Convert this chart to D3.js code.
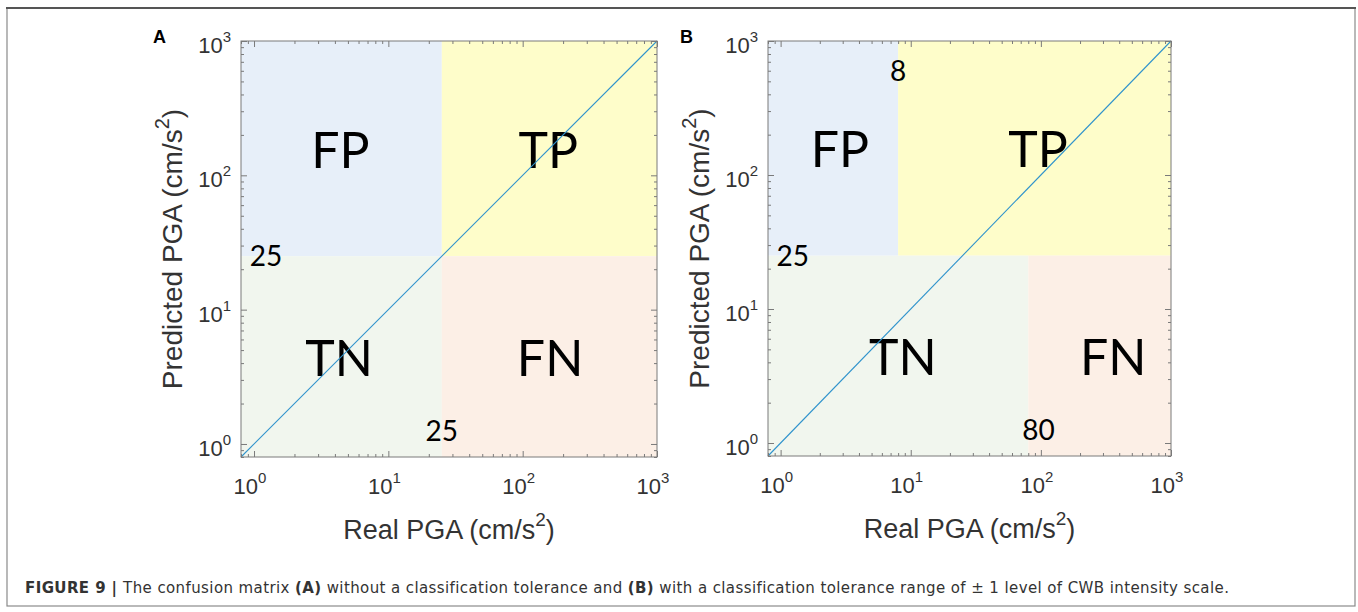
<!DOCTYPE html>
<html>
<head>
<meta charset="utf-8">
<script src="https://cdn.jsdelivr.net/npm/d3@7"></script>
<style>
  body { margin: 0; background: #fff; }
  svg { display: block; }
</style>
</head>
<body>
<div id="chart"></div>
<script>
// Axis range and ticks (same for both panels, PGA in cm/s^2)
const pgaDomain = [0.8, 1000];
const majorTicks = [1, 10, 100, 1000];
const tickExponents = ["0", "1", "2", "3"];

// Quadrant names, each region is [xFrom, xTo, yFrom, yTo]
const regionNames = ["FP", "TP", "TN", "FN"];
const regionsA = [[0.8, 25, 25, 1000], [25, 1000, 25, 1000], [0.8, 25, 0.8, 25], [25, 1000, 0.8, 25]];
const regionsB = [[0.8, 8, 25, 1000], [8, 1000, 25, 1000], [0.8, 80, 0.8, 25], [80, 1000, 0.8, 25]];

// Where the big quadrant names sit, in data units
const nameSpotsA = [[4.4, 155], [155, 155], [4.3, 4.4], [160, 4.4]];
const nameSpotsB = [[2.86, 155], [95, 155], [8.7, 4.4], [359, 4.4]];

// Threshold numbers written inside the plots
const cutTextA = ["25", "25"];
const cutSpotsA = [[0.93, 25], [25, 1.25]];
const cutTextB = ["8", "25", "80"];
const cutSpotsB = [[8, 600], [0.93, 25], [96, 1.25]];

// Identity line
const diagonal = [[0.8, 0.8], [1000, 1000]];

// Styling
let w = 1358, h = 612;
let fill = { FP: "#e7eff9", TP: "#fefdca", TN: "#f1f6ee", FN: "#fcefe6" };
let axisGray = "#7a7a7a";
let textGray = "#333";
let bigFont = "Lato, 'Open Sans', sans-serif";
let axFont = "'Liberation Sans', Arial, sans-serif";

let svg = d3.select("#chart").append("svg").attr("width", w).attr("height", h);

// Outer figure frame
svg.append("rect").attr("x", 7).attr("y", 8).attr("width", 1348).attr("height", 598)
    .attr("fill", "none").attr("stroke", "#8a8a8a").attr("stroke-width", 1.2);
svg.append("line").attr("x1", 6).attr("x2", 1356).attr("y1", 8).attr("y2", 8)
    .attr("stroke", "#555").attr("stroke-width", 2);

function drawPanel(letter, box, regions, nameSpots, cutText, cutSpots, cutAnchor) {
    let x = d3.scaleLog().domain(pgaDomain).range([box.left, box.right]);
    let y = d3.scaleLog().domain(pgaDomain).range([box.bottom, box.top]);
    let g = svg.append("g");

    // coloured quadrants
    g.selectAll("rect.region")
        .data(regions)
        .enter()
        .append("rect")
        .attr("class", "region")
        .attr("x", d => x(d[0]))
        .attr("y", d => y(d[3]))
        .attr("width", d => x(d[1]) - x(d[0]))
        .attr("height", d => y(d[2]) - y(d[3]))
        .attr("fill", (d, i) => fill[regionNames[i]]);

    // quadrant names
    g.selectAll("text.qname")
        .data(nameSpots)
        .enter()
        .append("text")
        .attr("class", "qname")
        .attr("x", d => x(d[0]))
        .attr("y", d => y(d[1]))
        .attr("dy", "0.36em")
        .attr("text-anchor", "middle")
        .attr("font-family", bigFont)
        .attr("font-size", 50)
        .attr("fill", "#000")
        .text((d, i) => regionNames[i]);

    // threshold numbers
    g.selectAll("text.cut")
        .data(cutSpots)
        .enter()
        .append("text")
        .attr("class", "cut")
        .attr("x", d => x(d[0]))
        .attr("y", d => y(d[1]))
        .attr("dy", "0.36em")
        .attr("text-anchor", (d, i) => cutAnchor[i])
        .attr("font-family", bigFont)
        .attr("font-size", 28)
        .attr("fill", "#000")
        .text((d, i) => cutText[i]);

    // 1:1 line, drawn over the labels like in the original
    g.append("path")
        .attr("d", d3.line().x(d => x(d[0])).y(d => y(d[1]))(diagonal))
        .attr("fill", "none")
        .attr("stroke", "#2f93cc")
        .attr("stroke-width", 1.1);

    // ticks on all four sides, pointing inwards
    let allTicks = x.ticks().filter(v => v >= pgaDomain[0] && v <= pgaDomain[1]);
    let minorTicks = allTicks.filter(v => majorTicks.indexOf(v) < 0);
    let sides = [
        { ax: d3.axisBottom(x), tr: "translate(0," + box.bottom + ")" },
        { ax: d3.axisTop(x), tr: "translate(0," + box.top + ")" },
        { ax: d3.axisLeft(y), tr: "translate(" + box.left + ",0)" },
        { ax: d3.axisRight(y), tr: "translate(" + box.right + ",0)" }
    ];
    sides.forEach(s => {
        [[minorTicks, 3], [majorTicks, 6]].forEach(([vals, len]) => {
            let a = g.append("g").attr("transform", s.tr)
                .call(s.ax.tickValues(vals).tickSizeInner(-len).tickSizeOuter(0).tickFormat(""));
            a.select(".domain").remove();
            a.selectAll("line").attr("stroke", axisGray);
        });
    });

    // axes box
    g.append("rect")
        .attr("x", box.left).attr("y", box.top)
        .attr("width", box.right - box.left).attr("height", box.bottom - box.top)
        .attr("fill", "none").attr("stroke", axisGray).attr("stroke-width", 1);

    // x tick labels with superscripts
    majorTicks.forEach((v, i) => {
        let t = g.append("text")
            .attr("x", x(v) - 4).attr("y", box.bottom + 37)
            .attr("text-anchor", "middle")
            .attr("font-family", axFont).attr("font-size", 22).attr("fill", textGray);
        t.append("tspan").text("10");
        t.append("tspan").attr("dy", -11).attr("font-size", 15).text(tickExponents[i]);
    });

    // y tick labels
    majorTicks.forEach((v, i) => {
        let t = g.append("text")
            .attr("x", box.left - 10).attr("y", y(v) + 12)
            .attr("text-anchor", "end")
            .attr("font-family", axFont).attr("font-size", 22).attr("fill", textGray);
        t.append("tspan").text("10");
        t.append("tspan").attr("dy", -11).attr("font-size", 15).text(tickExponents[i]);
    });

    // x axis title
    let xt = g.append("text")
        .attr("x", (box.left + box.right) / 2).attr("y", box.bottom + 82)
        .attr("text-anchor", "middle")
        .attr("font-family", axFont).attr("font-size", 27).attr("fill", textGray);
    xt.append("tspan").text("Real PGA (cm/s");
    xt.append("tspan").attr("dy", -13).attr("font-size", 19).text("2");
    xt.append("tspan").attr("dy", 13).text(")");

    // y axis title
    let cy = (box.top + box.bottom) / 2;
    let yt = g.append("text")
        .attr("transform", "translate(" + (box.left - 59) + "," + cy + ") rotate(-90)")
        .attr("text-anchor", "middle")
        .attr("font-family", axFont).attr("font-size", 28).attr("fill", textGray);
    yt.append("tspan").text("Predicted PGA (cm/s");
    yt.append("tspan").attr("dy", -13).attr("font-size", 20).text("2");
    yt.append("tspan").attr("dy", 13).text(")");

    // panel letter
    svg.append("text")
        .attr("x", box.left - 88).attr("y", 43)
        .attr("font-family", axFont).attr("font-weight", "bold").attr("font-size", 18)
        .attr("fill", "#000").text(letter);
}

drawPanel("A", { left: 241, right: 657, top: 41, bottom: 457 },
    regionsA, nameSpotsA, cutTextA, cutSpotsA, ["start", "middle"]);
drawPanel("B", { left: 768, right: 1171, top: 41, bottom: 456 },
    regionsB, nameSpotsB, cutTextB, cutSpotsB, ["middle", "start", "middle"]);

// Figure caption
let cap = svg.append("text").attr("x", 25).attr("y", 593)
    .attr("font-family", "'DejaVu Sans', sans-serif").attr("font-size", 15)
    .attr("letter-spacing", 0.4).attr("fill", textGray);
cap.append("tspan").attr("font-weight", "bold").text("FIGURE 9 | ");
cap.append("tspan").text("The confusion matrix ");
cap.append("tspan").attr("font-weight", "bold").text("(A)");
cap.append("tspan").text(" without a classification tolerance and ");
cap.append("tspan").attr("font-weight", "bold").text("(B)");
cap.append("tspan").text(" with a classification tolerance range of \u00B1 1 level of CWB intensity scale.");
</script>
</body>
</html>
